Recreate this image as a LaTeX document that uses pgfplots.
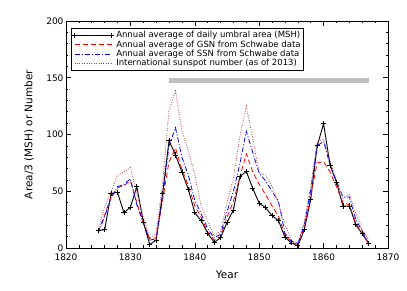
\documentclass[border=0pt]{standalone}
\usepackage{fontspec}
\setmainfont{DejaVu Sans}
\usepackage{pgfplots}
\pgfplotsset{compat=1.18}
\definecolor{isn}{RGB}{185,55,55}
\begin{document}
\begin{tikzpicture}
\begin{axis}[name=ax, scale only axis, width=322pt, height=227pt,
  xmin=1820, xmax=1870, ymin=0, ymax=200,
  xtick={1820,1830,...,1870}, ytick={0,50,...,200},
  minor x tick num=4, minor y tick num=4,
  tick align=inside, major tick length=5pt, minor tick length=2.5pt,
  axis line style={line width=0.8pt},
  every tick/.style={black, line width=0.6pt},
  /pgf/number format/assume math mode=true,
  /pgf/number format/1000 sep={},
  tick label style={font=\fontsize{9}{10}\selectfont},
  xticklabel style={yshift=-2.5pt},
  yticklabel style={xshift=1pt},
  xlabel={Year}, ylabel={Area/3 (MSH) or Number},
  label style={font=\fontsize{10.5}{11}\selectfont},
  xlabel style={at={(axis description cs:0.5,-0.119)}, anchor=center},
  ylabel style={at={(axis description cs:-0.115,0.5)}, anchor=center},
  legend style={at={(rel axis cs:0.0155,0.969)}, anchor=north west,
    draw=black, line width=0.6pt, font=\fontsize{8.5}{8.5}\selectfont,
    inner sep=0.8pt, row sep=-2.5pt, cells={anchor=west}},
  legend image code/.code={\draw[#1] plot coordinates {(0pt,0pt) (37pt,0pt)};},
]
\addplot[black!25, line width=5pt, forget plot] coordinates {(1836,147.5) (1867,147.5)};
\addplot[black, line width=0.9pt, mark=+, mark size=2.6pt, mark options={solid, line width=0.7pt}] coordinates {
(1825,15.5)(1826,16)(1827,48)(1828,49)(1829,31)(1830,36)(1831,54)(1832,23)(1833,3)(1834,7)
(1835,48)(1836,94.5)(1837,82)(1838,67)(1839,51.5)(1840,31)(1841,24)(1842,13)(1843,5)(1844,9)
(1845,22.5)(1846,33.5)(1847,63)(1848,67.5)(1849,52.5)(1850,39.5)(1851,35.5)(1852,28.5)(1853,24)(1854,9.5)
(1855,4.5)(1856,2)(1857,16)(1858,43)(1859,90)(1860,109.5)(1861,73)(1862,58)(1863,37)(1864,37)
(1865,20.5)(1866,12.5)(1867,4)};
\addlegendentry{Annual average of daily umbral area (MSH)}
\addplot[red, line width=0.8pt, dash pattern=on 5pt off 3pt] coordinates {
(1825,14)(1826,29)(1827,45)(1828,53)(1829,55)(1830,59)(1831,40)(1832,23)(1833,8)(1834,9)
(1835,42)(1836,76)(1837,88)(1838,69)(1839,55)(1840,37)(1841,27)(1842,14)(1843,7)(1844,10)
(1845,27)(1846,41)(1847,63)(1848,83)(1849,67)(1850,56)(1851,47)(1852,37)(1853,28)(1854,12)
(1855,5)(1856,3)(1857,18)(1858,46)(1859,75)(1860,76)(1861,67)(1862,54)(1863,40)(1864,38)
(1865,22)(1866,13)(1867,4)};
\addlegendentry{Annual average of GSN from Schwabe data}
\addplot[blue, line width=0.8pt, dash pattern=on 5pt off 2pt on 1pt off 2pt] coordinates {
(1825,13)(1826,28)(1827,44)(1828,54)(1829,56)(1830,61)(1831,38)(1832,22)(1833,7)(1834,8)
(1835,45)(1836,90)(1837,106)(1838,80)(1839,64)(1840,42)(1841,30)(1842,17)(1843,9)(1844,12)
(1845,32)(1846,50)(1847,74)(1848,103)(1849,84)(1850,66)(1851,59)(1852,50)(1853,41)(1854,13)
(1855,6)(1856,4)(1857,20)(1858,51)(1859,90)(1860,94)(1861,73)(1862,59)(1863,45)(1864,45)
(1865,25)(1866,15)(1867,4)};
\addlegendentry{Annual average of SSN from Schwabe data}
\addplot[isn, line width=0.8pt, dash pattern=on 0.8pt off 1.6pt] coordinates {
(1825,16.7)(1826,36.3)(1827,49.6)(1828,64.2)(1829,67.0)(1830,70.9)(1831,47.8)(1832,27.5)(1833,8.5)(1834,13.2)
(1835,56.9)(1836,121.5)(1837,138.3)(1838,103.2)(1839,85.7)(1840,64.6)(1841,36.7)(1842,24.2)(1843,10.7)(1844,15.0)
(1845,40.1)(1846,61.5)(1847,98.5)(1848,124.7)(1849,96.3)(1850,66.6)(1851,64.5)(1852,54.1)(1853,39.0)(1854,20.6)
(1855,6.7)(1856,4.3)(1857,22.7)(1858,54.8)(1859,93.8)(1860,95.8)(1861,77.2)(1862,59.1)(1863,44.0)(1864,47.0)
(1865,30.5)(1866,16.3)(1867,7.3)};
\addlegendentry{International sunspot number (as of 2013)}
\end{axis}
\pgfresetboundingbox
\path (ax.south west) ++(-66pt,-43pt) rectangle ++(407pt,291pt);
\end{tikzpicture}
\end{document}
